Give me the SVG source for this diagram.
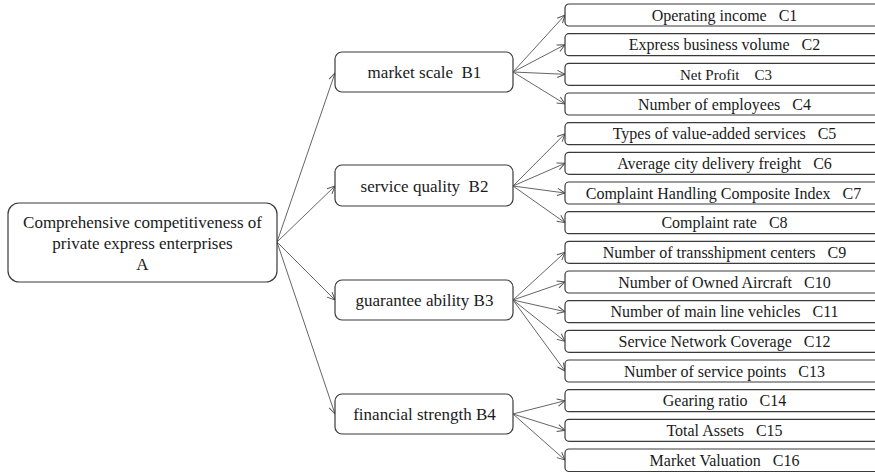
<svg xmlns="http://www.w3.org/2000/svg" width="875" height="473" viewBox="0 0 875 473">
<style>
.box{fill:#fff;stroke:#3a3a3a;stroke-width:1.2}
.t{font-family:"Liberation Serif","Times New Roman",serif;fill:#1a1a1a;text-anchor:middle;white-space:pre}
.c{font-size:16px}
.b{font-size:17px}
.a{font-size:17px}
.ln{stroke:#666;stroke-width:1;fill:none;marker-end:url(#arr)}
</style>
<defs>
<marker id="arr" viewBox="0 0 10 10" refX="9.5" refY="5" markerWidth="9" markerHeight="9" markerUnits="userSpaceOnUse" orient="auto">
<path d="M1,1 L9.5,5 L1,9" fill="none" stroke="#555" stroke-width="1.1"/>
</marker>
</defs>
<rect width="875" height="473" fill="#fff"/>
<g id="connectors">
<line class="ln" x1="277" y1="242" x2="335" y2="73"/>
<line class="ln" x1="277" y1="242" x2="335" y2="186"/>
<line class="ln" x1="277" y1="242" x2="335" y2="300"/>
<line class="ln" x1="277" y1="242" x2="335" y2="414"/>
<line class="ln" x1="513" y1="72" x2="565" y2="15"/>
<line class="ln" x1="513" y1="72" x2="565" y2="44.7"/>
<line class="ln" x1="513" y1="72" x2="565" y2="74.3"/>
<line class="ln" x1="513" y1="72" x2="565" y2="104"/>
<line class="ln" x1="513" y1="186" x2="565" y2="133.7"/>
<line class="ln" x1="513" y1="186" x2="565" y2="163.3"/>
<line class="ln" x1="513" y1="186" x2="565" y2="193"/>
<line class="ln" x1="513" y1="186" x2="565" y2="222.7"/>
<line class="ln" x1="513" y1="300" x2="565" y2="252.3"/>
<line class="ln" x1="513" y1="300" x2="565" y2="282"/>
<line class="ln" x1="513" y1="300" x2="565" y2="311.7"/>
<line class="ln" x1="513" y1="300" x2="565" y2="341.3"/>
<line class="ln" x1="513" y1="300" x2="565" y2="371"/>
<line class="ln" x1="513" y1="414" x2="565" y2="400.7"/>
<line class="ln" x1="513" y1="414" x2="565" y2="430.3"/>
<line class="ln" x1="513" y1="414" x2="565" y2="460"/>
</g>
<g id="A">
<rect class="box" x="8" y="203" width="269" height="79" rx="11"/>
<text class="t a" x="142.5" y="227.5">Comprehensive competitiveness of</text>
<text class="t a" x="142.5" y="249">private express enterprises</text>
<text class="t a" x="142.5" y="270">A</text>
</g>
<g id="B1"><rect class="box" x="335" y="52" width="178" height="40" rx="7"/><text class="t b" x="424.5" y="78">market scale  B1</text></g>
<g id="B2"><rect class="box" x="335" y="165" width="178" height="41" rx="7"/><text class="t b" x="424.5" y="191.5">service quality  B2</text></g>
<g id="B3"><rect class="box" x="335" y="280" width="178" height="40" rx="7"/><text class="t b" x="424.5" y="306">guarantee ability B3</text></g>
<g id="B4"><rect class="box" x="335" y="394" width="178" height="40" rx="7"/><text class="t b" x="424.5" y="420">financial strength B4</text></g>
<g id="C1"><rect class="box" x="565" y="4" width="318" height="22" rx="4"/><text class="t c" x="724.5" y="20.5">Operating income   C1</text></g>
<g id="C2"><rect class="box" x="565" y="33.7" width="318" height="22" rx="4"/><text class="t c" x="724.5" y="50.2">Express business volume   C2</text></g>
<g id="C3"><rect class="box" x="565" y="63.3" width="318" height="22" rx="4"/><text class="t" style="font-size:15px" x="726" y="79.5">Net Profit    C3</text></g>
<g id="C4"><rect class="box" x="565" y="93" width="318" height="22" rx="4"/><text class="t c" x="724.5" y="109.5">Number of employees   C4</text></g>
<g id="C5"><rect class="box" x="565" y="122.7" width="318" height="22" rx="4"/><text class="t c" x="724.5" y="139.2">Types of value-added services   C5</text></g>
<g id="C6"><rect class="box" x="565" y="152.3" width="318" height="22" rx="4"/><text class="t c" x="724.5" y="168.8">Average city delivery freight   C6</text></g>
<g id="C7"><rect class="box" x="565" y="182" width="318" height="22" rx="4"/><text class="t c" x="723.5" y="198.5">Complaint Handling Composite Index   C7</text></g>
<g id="C8"><rect class="box" x="565" y="211.7" width="318" height="22" rx="4"/><text class="t c" x="724.5" y="228.2">Complaint rate   C8</text></g>
<g id="C9"><rect class="box" x="565" y="241.3" width="318" height="22" rx="4"/><text class="t c" x="724.5" y="257.8">Number of transshipment centers   C9</text></g>
<g id="C10"><rect class="box" x="565" y="271" width="318" height="22" rx="4"/><text class="t c" x="724.5" y="287.5">Number of Owned Aircraft   C10</text></g>
<g id="C11"><rect class="box" x="565" y="300.7" width="318" height="22" rx="4"/><text class="t c" x="724.5" y="317.2">Number of main line vehicles   C11</text></g>
<g id="C12"><rect class="box" x="565" y="330.3" width="318" height="22" rx="4"/><text class="t c" x="724.5" y="346.8">Service Network Coverage   C12</text></g>
<g id="C13"><rect class="box" x="565" y="360" width="318" height="22" rx="4"/><text class="t c" x="724.5" y="376.5">Number of service points   C13</text></g>
<g id="C14"><rect class="box" x="565" y="389.7" width="318" height="22" rx="4"/><text class="t c" x="724.5" y="406.2">Gearing ratio   C14</text></g>
<g id="C15"><rect class="box" x="565" y="419.3" width="318" height="22" rx="4"/><text class="t c" x="724.5" y="435.8">Total Assets   C15</text></g>
<g id="C16"><rect class="box" x="565" y="449" width="318" height="22.5" rx="4"/><text class="t c" x="724.5" y="465.5">Market Valuation   C16</text></g>
</svg>
